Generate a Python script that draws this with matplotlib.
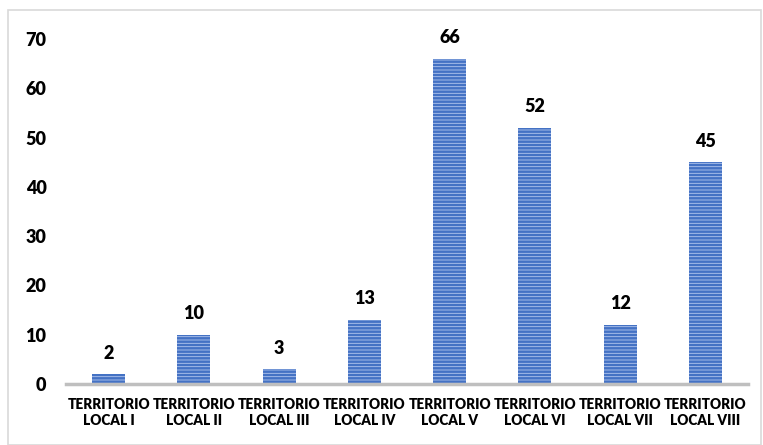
import matplotlib
matplotlib.use("Agg")
import matplotlib.pyplot as plt
from matplotlib.patches import Rectangle

categories = ["TERRITORIO\nLOCAL I", "TERRITORIO\nLOCAL II", "TERRITORIO\nLOCAL III",
              "TERRITORIO\nLOCAL IV", "TERRITORIO\nLOCAL V", "TERRITORIO\nLOCAL VI",
              "TERRITORIO\nLOCAL VII", "TERRITORIO\nLOCAL VIII"]
values = [2, 10, 3, 13, 66, 52, 12, 45]
yticks = [0, 10, 20, 30, 40, 50, 60, 70]

plt.rcParams['font.family'] = ['Lato', 'DejaVu Sans']
plt.rcParams['hatch.linewidth'] = 1.8

W, H = 763, 445
fig = plt.figure(figsize=(W/100, H/100), dpi=100)
fig.patches.append(Rectangle((8/W, 0), (761-8)/W, (H-10)/H, transform=fig.transFigure,
                             fill=False, edgecolor='#D9D9D9', linewidth=1.2))
ax = fig.add_axes([66/W, (H-384)/H, (748-66)/W, (384-39)/H])

x = range(len(categories))
bars = ax.bar(x, values, width=0.39, color='#B4C7EE', edgecolor='#4472C4',
              hatch='-----', linewidth=0)
for xi, v in zip(x, values):
    ax.annotate(str(v), (xi, v), xytext=(0, 9), textcoords='offset points',
                ha='center', va='bottom', fontsize=13, fontweight='heavy', color='black')

ax.set_xlim(-0.5, len(categories) - 0.5)
ax.set_ylim(0, 70)
ax.set_yticks(yticks)
ax.set_yticklabels([str(t) for t in yticks], fontsize=13, fontweight='heavy')
ax.set_xticks(list(x))
ax.set_xticklabels(categories, fontsize=9.8, fontweight='heavy', linespacing=1.25)
ax.tick_params(axis='both', length=0)
ax.tick_params(axis='y', pad=14)
ax.tick_params(axis='x', pad=10)
for s in ['top', 'right', 'left']:
    ax.spines[s].set_visible(False)
ax.spines['bottom'].set_color('#BFBFBF')
ax.spines['bottom'].set_linewidth(2.5)

fig.savefig('out.png', dpi=100)
